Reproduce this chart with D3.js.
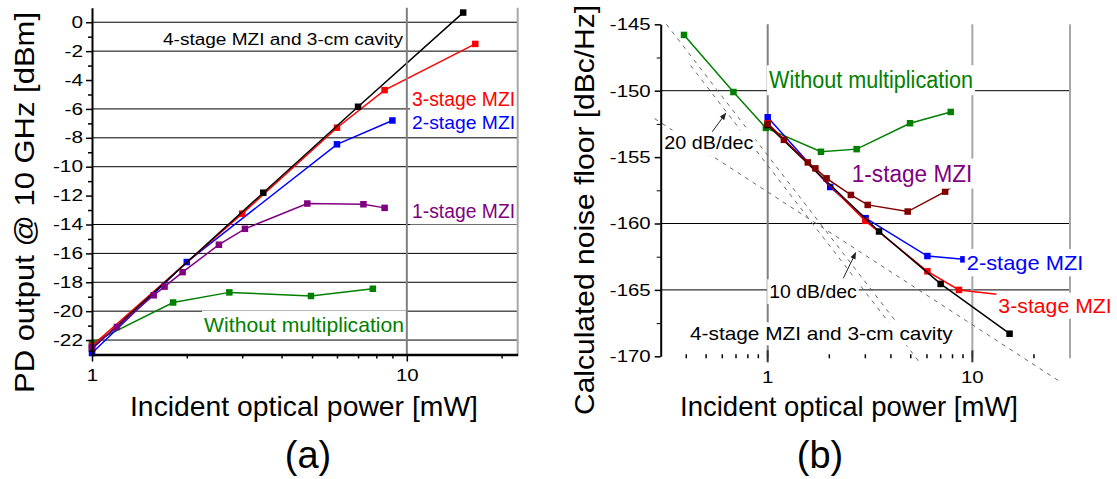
<!DOCTYPE html>
<html><head><meta charset="utf-8">
<script src="https://cdn.jsdelivr.net/npm/d3@7"></script>
<style>
body{margin:0;background:#fff}
svg{display:block}
text{font-family:"Liberation Sans",Arial,Helvetica,sans-serif}
</style>
</head><body>
<svg id="c" width="1117" height="479"></svg>
<script>
// ================= DATA =================
// Panel (a): PD output @ 10 GHz [dBm] vs incident optical power [mW]
const aPowerMajor = [1, 10];
const aPowerMinor = [2, 3, 4, 5, 6, 7, 8, 9, 20];
const aPdMajor = [0, -2, -4, -6, -8, -10, -12, -14, -16, -18, -20, -22];
const aPdMinor = [-1, -3, -5, -7, -9, -11, -13, -15, -17, -19, -21];
const aPdGrid = [0, -2, -6, -8, -10, -14, -16, -18, -20, -22];

const aNoMultP = [1, 1.81, 2.73, 4.96, 7.8];
const aNoMultV = [-22.2, -19.4, -18.7, -18.95, -18.45];
const a1StageP = [1, 1.2, 1.57, 1.7, 1.94, 2.53, 3.06, 4.83, 7.28, 8.5];
const a1StageV = [-22.5, -21.1, -18.9, -18.3, -17.3, -15.4, -14.3, -12.55, -12.6, -12.85];
const a2StageP = [1, 2.0, 6.0, 9.0];
const a2StageV = [-22.9, -16.6, -8.45, -6.8];
const a3StageP = [1, 3.0, 6.0, 8.5, 16.5];
const a3StageV = [-22.4, -13.25, -7.3, -4.7, -1.5];
const a4StageP = [1, 3.5, 7.0, 15.1];
const a4StageV = [-22.6, -11.8, -5.85, 0.67];

// Panel (b): calculated noise floor [dBc/Hz] vs incident optical power [mW]
const bPowerMajor = [1, 10];
const bPowerMinor = [0.4, 0.5, 0.6, 0.7, 0.8, 0.9, 2, 3, 4, 5, 6, 7, 8, 9, 20];
const bNoiseMajor = [-145, -150, -155, -160, -165, -170];
const bNoiseMinor = [-147.5, -152.5, -157.5, -162.5, -167.5];
const bNoiseGrid = [-150, -160, -165];

const bNoMultP = [0.39, 0.68, 0.98, 1.82, 2.72, 4.96, 7.84];
const bNoMultV = [-145.8, -150.1, -152.8, -154.6, -154.4, -152.45, -151.6];
const b1StageP = [1, 1.2, 1.57, 1.71, 1.94, 2.55, 3.08, 4.83, 7.36, 8.5];
const b1StageV = [-152.5, -153.7, -155.4, -155.85, -156.6, -157.85, -158.6, -159.1, -157.6, -156.9];
const b2StageP = [1, 2.02, 3.01, 6.03, 9.04];
const b2StageV = [-152.0, -157.25, -159.6, -162.45, -162.7];
const b3StageP = [1, 3.0, 6.03, 8.6, 16.5];
const b3StageV = [-152.45, -159.8, -163.6, -165.0, -165.5];
const b4StageP = [1, 3.5, 7.0, 15.2];
const b4StageV = [-152.6, -160.6, -164.55, -168.3];

// reference slopes (dashed)
const bRef20aP = [0.32, 4.7],  bRef20aV = [-145.0, -168.3];
const bRef20bP = [0.42, 5.55], bRef20bV = [-148.1, -170.5];
const bRef10P  = [0.28, 27.4], bRef10V  = [-152.1, -172.0];

// ================= LAYOUT =================
const svg = d3.select('#c');
const xA = d3.scaleLog().domain([1, 22.5]).range([92, 517.7]);
const yA = d3.scaleLinear().domain([-23, 1]).range([354.5, 7.8]);
const xB = d3.scaleLog().domain([0.3, 30]).range([660.7, 1070]);
const yB = d3.scaleLinear().domain([-170, -145]).range([356.3, 24.3]);

function fit(sel, k) {
  sel.each(function () {
    const w = this.getComputedTextLength();
    this.setAttribute('textLength', w * k);
    this.setAttribute('lengthAdjust', 'spacingAndGlyphs');
  });
}

svg.append('defs').append('marker')
  .attr('id', 'ah').attr('viewBox', '0 0 10 10').attr('refX', 9).attr('refY', 5)
  .attr('markerWidth', 7).attr('markerHeight', 7).attr('orient', 'auto')
  .append('path').attr('d', 'M0,1 L10,5 L0,9 Z').attr('fill', '#222');

function series(g, x, y, P, V, color, ms) {
  const pts = d3.zip(P, V);
  g.append('path').datum(pts)
    .attr('d', d3.line().x(d => x(d[0])).y(d => y(d[1])))
    .attr('fill', 'none').attr('stroke', color).attr('stroke-width', 1.5);
  g.selectAll(null).data(pts).join('rect')
    .attr('x', d => x(d[0]) - ms / 2).attr('y', d => y(d[1]) - ms / 2)
    .attr('width', ms).attr('height', ms).attr('fill', color);
}

function notes(g, x, y, list) {
  list.forEach(n => {
    const px = x(n.x), py = y(n.y);
    g.append('rect').attr('x', px - 2).attr('y', py - n.fs * 1.0)
      .attr('width', n.w + 4).attr('height', n.fs * 1.3).attr('fill', '#fff');
    g.append('text').attr('x', px).attr('y', py).attr('font-size', n.fs)
      .attr('fill', n.c).attr('textLength', n.w).attr('lengthAdjust', 'spacingAndGlyphs')
      .text(n.t);
  });
}

// ================= PANEL (a) =================
const gA = svg.append('g');
gA.selectAll(null).data(aPdGrid).join('line')
  .attr('x1', xA.range()[0]).attr('x2', xA.range()[1])
  .attr('y1', d => yA(d)).attr('y2', d => yA(d))
  .attr('stroke', '#000').attr('stroke-width', 1);

series(gA, xA, yA, aNoMultP, aNoMultV, '#008000', 6.5);
series(gA, xA, yA, a2StageP, a2StageV, '#0000ff', 6.5);
series(gA, xA, yA, a3StageP, a3StageV, '#ff0000', 6.5);
series(gA, xA, yA, a4StageP, a4StageV, '#000000', 6.5);
series(gA, xA, yA, a1StageP, a1StageV, '#800080', 6.5);

notes(gA, xA, yA, [
  {t: '4-stage MZI and 3-cm cavity', x: 1.681, y: -1.557, c: '#000', fs: 16, w: 240},
  {t: '3-stage MZI', x: 10.39, y: -5.81, c: '#ff0000', fs: 20, w: 103},
  {t: '2-stage MZI', x: 10.39, y: -7.37, c: '#0000ff', fs: 19, w: 103},
  {t: '1-stage MZI', x: 10.39, y: -13.58, c: '#800080', fs: 20, w: 103},
  {t: 'Without multiplication', x: 2.27, y: -21.43, c: '#008000', fs: 21, w: 200}
]);

// vertical lines (a)
gA.append('line').attr('x1', xA(10)).attr('x2', xA(10)).attr('y1', yA(1)).attr('y2', yA(-23))
  .attr('stroke', '#808080').attr('stroke-width', 2);
gA.append('line').attr('x1', xA(22.5)).attr('x2', xA(22.5)).attr('y1', yA(1)).attr('y2', yA(-23))
  .attr('stroke', '#a8a8a8').attr('stroke-width', 2);

// axes (a)
const axAy = gA.append('g').attr('transform', `translate(${xA(1)},0)`)
  .call(d3.axisLeft(yA).tickValues(aPdMajor).tickSize(6).tickSizeOuter(0).tickPadding(3).tickFormat(d => String(d)));
gA.append('g').attr('transform', `translate(${xA(1)},0)`)
  .call(d3.axisLeft(yA).tickValues(aPdMinor).tickSize(4).tickSizeOuter(0).tickFormat(''))
  .select('.domain').remove();
const axAx = gA.append('g').attr('transform', `translate(0,${yA(-23)})`)
  .call(d3.axisBottom(xA).tickValues(aPowerMajor).tickSize(7).tickSizeOuter(0).tickPadding(7).tickFormat(d => String(d)));
gA.append('g').attr('transform', `translate(0,${yA(-23)})`)
  .call(d3.axisBottom(xA).tickValues(aPowerMinor).tickSize(4).tickSizeOuter(0).tickFormat(''))
  .select('.domain').remove();
axAy.select('.domain').attr('stroke-width', 2);
axAx.select('.domain').attr('stroke-width', 2.5);
gA.selectAll('.tick line').attr('stroke-width', 1.5);
axAy.selectAll('text').attr('font-size', 16).attr('font-family', null).attr('fill', '#000');
axAx.selectAll('text').attr('font-size', 17).attr('font-family', null).attr('fill', '#000');
fit(axAy.selectAll('text'), 1.3);
fit(axAx.selectAll('text'), 1.2);

gA.append('text').attr('transform', 'translate(34,202.5) rotate(-90)')
  .attr('text-anchor', 'middle').attr('font-size', 28)
  .attr('textLength', 381).attr('lengthAdjust', 'spacingAndGlyphs')
  .text('PD output @ 10 GHz [dBm]');
gA.append('text').attr('x', 304).attr('y', 416).attr('text-anchor', 'middle').attr('font-size', 28)
  .attr('textLength', 348).attr('lengthAdjust', 'spacingAndGlyphs')
  .text('Incident optical power [mW]');
gA.append('text').attr('x', 308).attr('y', 468).attr('text-anchor', 'middle').attr('font-size', 38)
  .text('(a)');

// ================= PANEL (b) =================
const gB = svg.append('g');
gB.selectAll(null).data(bNoiseGrid).join('line')
  .attr('x1', xB.range()[0]).attr('x2', xB.range()[1])
  .attr('y1', d => yB(d)).attr('y2', d => yB(d))
  .attr('stroke', '#000').attr('stroke-width', 1);

// vertical lines (b)
[[1, '#808080'], [10, '#a8a8a8'], [30, '#a8a8a8']].forEach(([v, c]) => {
  gB.append('line').attr('x1', xB(v)).attr('x2', xB(v)).attr('y1', yB(-145)).attr('y2', yB(-170) + 2)
    .attr('stroke', c).attr('stroke-width', 2);
});

// dashed slope references
[[bRef20aP, bRef20aV], [bRef20bP, bRef20bV], [bRef10P, bRef10V]].forEach(([P, V]) => {
  gB.append('path').datum(d3.zip(P, V))
    .attr('d', d3.line().x(d => xB(d[0])).y(d => yB(d[1])))
    .attr('fill', 'none').attr('stroke', '#666').attr('stroke-width', 1)
    .attr('stroke-dasharray', '4 5');
});

series(gB, xB, yB, bNoMultP, bNoMultV, '#008000', 6.5);
series(gB, xB, yB, b2StageP, b2StageV, '#0000ff', 6.5);
series(gB, xB, yB, b3StageP, b3StageV, '#ff0000', 6.5);
series(gB, xB, yB, b4StageP, b4StageV, '#000000', 6.5);
series(gB, xB, yB, b1StageP, b1StageV, '#800000', 6.5);

notes(gB, xB, yB, [
  {t: 'Without multiplication', x: 1.015, y: -149.82, c: '#008000', fs: 23, w: 204},
  {t: '20 dB/dec', x: 0.3124, y: -154.41, c: '#000', fs: 19, w: 89},
  {t: '1-stage MZI', x: 2.574, y: -156.85, c: '#800080', fs: 23, w: 120.6},
  {t: '2-stage MZI', x: 9.39, y: -163.5, c: '#0000ff', fs: 21, w: 116.6},
  {t: '3-stage MZI', x: 13.40, y: -166.72, c: '#ff0000', fs: 20, w: 113.4},
  {t: '10 dB/dec', x: 1.018, y: -165.63, c: '#000', fs: 19, w: 87.4},
  {t: '4-stage MZI and 3-cm cavity', x: 0.4172, y: -168.77, c: '#000', fs: 17.7, w: 262.7}
]);

// arrows
[[0.536, -153.09, 0.623, -151.71], [2.34, -164.13, 2.69, -162.2]].forEach(([x1, y1, x2, y2]) => {
  gB.append('line').attr('x1', xB(x1)).attr('y1', yB(y1)).attr('x2', xB(x2)).attr('y2', yB(y2))
    .attr('stroke', '#222').attr('stroke-width', 1).attr('marker-end', 'url(#ah)');
});

// axes (b)
const axBy = gB.append('g').attr('transform', `translate(${xB(0.3)},0)`)
  .call(d3.axisLeft(yB).tickValues(bNoiseMajor).tickSize(6).tickSizeOuter(0).tickPadding(4).tickFormat(d => String(d)));
gB.append('g').attr('transform', `translate(${xB(0.3)},0)`)
  .call(d3.axisLeft(yB).tickValues(bNoiseMinor).tickSize(4).tickSizeOuter(0).tickFormat(''))
  .select('.domain').remove();
axBy.select('.domain').attr('stroke-width', 2);
axBy.selectAll('.tick line').attr('stroke-width', 1.5);
axBy.selectAll('text').attr('font-size', 17).attr('font-family', null).attr('fill', '#000');
fit(axBy.selectAll('text'), 1.2);

// bottom ticks (no axis line)
gB.selectAll(null).data(bPowerMinor).join('line')
  .attr('x1', d => xB(d)).attr('x2', d => xB(d))
  .attr('y1', yB(-170) - 2).attr('y2', yB(-170) + 2)
  .attr('stroke', '#000').attr('stroke-width', 1.5);
gB.selectAll(null).data(bPowerMajor).join('line')
  .attr('x1', d => xB(d)).attr('x2', d => xB(d))
  .attr('y1', yB(-170) - 6).attr('y2', yB(-170) + 6)
  .attr('stroke', '#333').attr('stroke-width', 2);
const bxl = gB.selectAll(null).data(bPowerMajor).join('text')
  .attr('x', d => xB(d)).attr('y', 383).attr('text-anchor', 'middle').attr('font-size', 17)
  .text(d => String(d));
fit(bxl, 1.2);

gB.append('text').attr('transform', 'translate(593.5,210) rotate(-90)')
  .attr('text-anchor', 'middle').attr('font-size', 28)
  .attr('textLength', 410).attr('lengthAdjust', 'spacingAndGlyphs')
  .text('Calculated noise floor [dBc/Hz]');
gB.append('text').attr('x', 849).attr('y', 416).attr('text-anchor', 'middle').attr('font-size', 28)
  .attr('textLength', 338).attr('lengthAdjust', 'spacingAndGlyphs')
  .text('Incident optical power [mW]');
gB.append('text').attr('x', 820).attr('y', 468).attr('text-anchor', 'middle').attr('font-size', 38)
  .text('(b)');
</script>
</body></html>
